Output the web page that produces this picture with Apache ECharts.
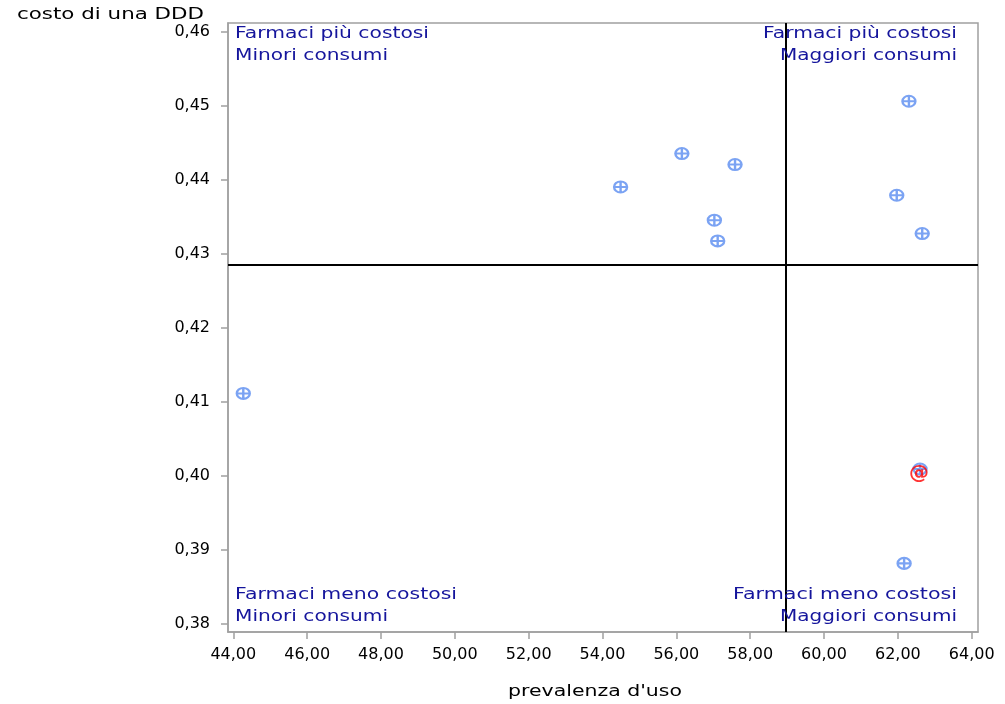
<!DOCTYPE html>
<html>
<head>
<meta charset="utf-8">
<script src="https://cdn.jsdelivr.net/npm/echarts@6/dist/echarts.min.js"></script>
<style>html,body{margin:0;padding:0;background:#fff;}#c{width:1005px;height:704px;}</style>
</head>
<body>
<div id="c"></div>
<script>
// ---- data ----
const prevalenza = [62.30, 56.15, 57.59, 54.49, 61.97, 57.03, 57.12, 62.66, 44.27, 62.60, 62.17];
const costo      = [0.45062, 0.44355, 0.44207, 0.43904, 0.43792, 0.43455, 0.43175, 0.43275, 0.41115, 0.40093, 0.38819];
const highlightX = [62.57];
const highlightY = [0.40035];
const refX = 58.97;
const refY = 0.42847;
const xTicks = [44, 46, 48, 50, 52, 54, 56, 58, 60, 62, 64];
const yTicks = [0.38, 0.39, 0.40, 0.41, 0.42, 0.43, 0.44, 0.45, 0.46];
const xTitle = "prevalenza d'uso";
const yTitle = "costo di una DDD";
const quadrantLabels = [
  ["Farmaci più costosi", "Minori consumi"],
  ["Farmaci più costosi", "Maggiori consumi"],
  ["Farmaci meno costosi", "Minori consumi"],
  ["Farmaci meno costosi", "Maggiori consumi"]
];

const chart = echarts.init(document.getElementById('c'), null, {renderer: 'canvas'});
const FAM = 'DejaVu Sans';
const cvs = document.createElement('canvas').getContext('2d');
function mkText(str, x, y, align, targetW, color, size) {
  const font = size + 'px "' + FAM + '"';
  cvs.font = font;
  const w = cvs.measureText(str).width;
  return {
    type: 'text', x: x, y: y, scaleX: targetW / w, z: 100,
    style: { text: str, font: font, fill: color, align: align, verticalAlign: 'middle' }
  };
}
const QC = '#15159c';
const graphics = [
  mkText(yTitle, 17, 15, 'left', 187, '#000', 15),
  mkText(xTitle, 508, 692, 'left', 174, '#000', 15),
  mkText(quadrantLabels[0][0], 235, 34, 'left', 194, QC, 15),
  mkText(quadrantLabels[0][1], 235, 56, 'left', 153, QC, 15),
  mkText(quadrantLabels[1][0], 957, 34, 'right', 194, QC, 15),
  mkText(quadrantLabels[1][1], 957, 56, 'right', 177, QC, 15),
  mkText(quadrantLabels[2][0], 235, 595, 'left', 222, QC, 15),
  mkText(quadrantLabels[2][1], 235, 617, 'left', 153, QC, 15),
  mkText(quadrantLabels[3][0], 957, 595, 'right', 224, QC, 15),
  mkText(quadrantLabels[3][1], 957, 617, 'right', 177, QC, 15)
];

const markerPath = 'path://M0,5 A6,5 0 1,1 12,5 A6,5 0 1,1 0,5 Z M6,0 L6,10 M0,5 L12,5';
const fmt = (v, d) => v.toFixed(d).replace('.', ',');

chart.setOption({
  animation: false,
  backgroundColor: '#fff',
  grid: { left: 228, right: 27, top: 23, bottom: 72, show: true, borderColor: '#a0a0a0', borderWidth: 1.5, backgroundColor: 'transparent' },
  xAxis: {
    type: 'value', min: 43.856, max: 64.171,
    axisLine: { show: true, lineStyle: { color: '#a0a0a0', width: 1.5 } },
    axisTick: { show: true, length: 7, customValues: xTicks, lineStyle: { color: '#a0a0a0', width: 1.5 } },
    axisLabel: { customValues: xTicks, margin: 15, color: '#000', fontFamily: FAM, fontSize: 16, formatter: v => fmt(v, 2) },
    splitLine: { show: false }
  },
  yAxis: {
    type: 'value', min: 0.37892, max: 0.46119,
    axisLine: { show: true, lineStyle: { color: '#a0a0a0', width: 1.5 } },
    axisTick: { show: true, length: 7, customValues: yTicks, lineStyle: { color: '#a0a0a0', width: 1.5 } },
    axisLabel: { customValues: yTicks, margin: 18, color: '#000', fontFamily: FAM, fontSize: 16, formatter: v => fmt(v, 2) },
    splitLine: { show: false }
  },
  graphic: graphics,
  series: [
    {
      type: 'scatter',
      data: prevalenza.map((x, i) => [x, costo[i]]),
      symbol: markerPath, symbolSize: [13, 11],
      itemStyle: { color: 'rgba(0,0,0,0)', borderColor: '#5a8cf0', borderWidth: 2.2 },
      markLine: {
        silent: true, symbol: 'none', label: { show: false }, precision: 6,
        lineStyle: { color: '#000', width: 2, type: 'solid' },
        data: [{ xAxis: refX }, { yAxis: refY }]
      },
      z: 3
    },
    {
      type: 'scatter',
      data: highlightX.map((x, i) => [x, highlightY[i]]),
      symbol: 'circle', symbolSize: 1,
      itemStyle: { color: 'rgba(0,0,0,0)' },
      label: { show: true, position: 'inside', formatter: '@', color: '#ff0000', fontFamily: FAM, fontSize: 20, fontWeight: 'bold' },
      z: 4
    }
  ]
});
</script>
</body>
</html>
